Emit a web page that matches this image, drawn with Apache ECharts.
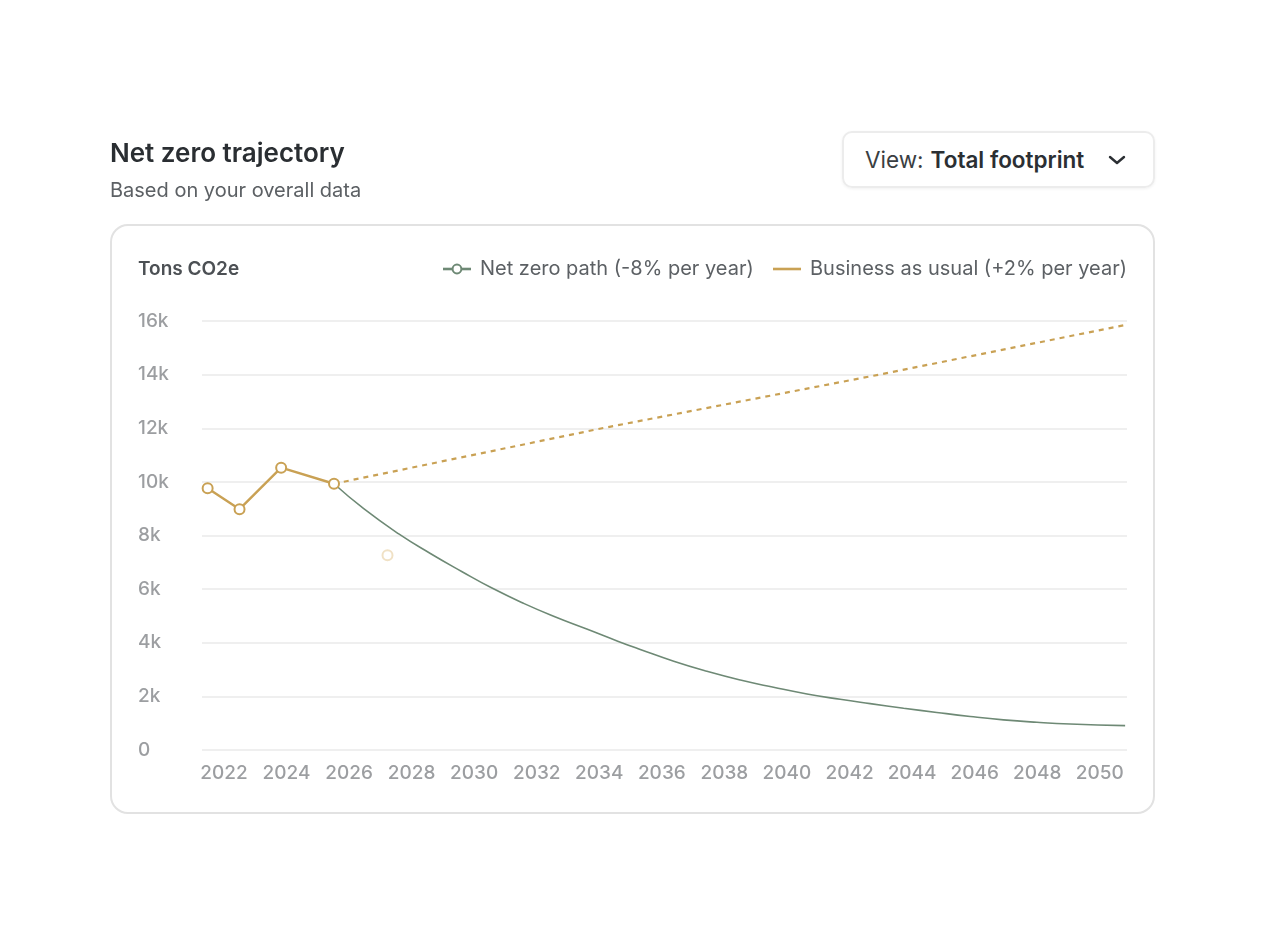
<!DOCTYPE html>
<html>
<head>
<meta charset="utf-8">
<script src="https://cdn.jsdelivr.net/npm/echarts@6/dist/echarts.min.js"></script>
<style>
  html, body { margin: 0; padding: 0; background: #ffffff; }
  body { width: 1265px; height: 946px; position: relative; overflow: hidden; font-family: Inter, "Noto Sans", sans-serif; }
  #card { position: absolute; left: 110px; top: 224px; width: 1041px; height: 586px; border: 2px solid #e2e2e2; border-radius: 18px; box-sizing: content-box; }
  #dropdown { position: absolute; left: 842px; top: 131px; width: 309px; height: 53px; border: 2px solid #ececec; border-radius: 10px; box-shadow: 0 1px 3px rgba(0,0,0,0.06); display: flex; align-items: center; font-size: 22.5px; color: #3a3e42; }
  #dropdown .lbl { margin-left: 21px; }
  #dropdown b { font-weight: 600; color: #2b2f33; margin-left: 7px; }
  #dropdown svg { position: absolute; left: 264px; top: 21px; }
  #chart { position: absolute; left: 0; top: 0; width: 1265px; height: 946px; }
</style>
</head>
<body>
<div id="card"></div>
<div id="dropdown"><span class="lbl">View:</span><b>Total footprint</b>
  <svg width="18" height="12" viewBox="0 0 18 12"><path d="M2 3 L9 9 L16 3" fill="none" stroke="#2b2f33" stroke-width="2.4" stroke-linecap="round" stroke-linejoin="round"/></svg>
</div>
<div id="chart"></div>
<script>
// ---- data ----
const xTickYears = [2022, 2024, 2026, 2028, 2030, 2032, 2034, 2036, 2038, 2040, 2042, 2044, 2046, 2048, 2050];
const yTickValues = [0, 2000, 4000, 6000, 8000, 10000, 12000, 14000, 16000];

const historyYears  = [2021.48, 2022.50, 2023.83, 2025.52];
const historyValues = [9760, 8980, 10530, 9930];

const netZeroYears  = [2025.52, 2026.47, 2027.59, 2028.60, 2029.60, 2030.57, 2031.60, 2032.60, 2033.60, 2034.61, 2035.31, 2036.38, 2037.44, 2038.51, 2039.57, 2040.64, 2041.70, 2042.66, 2043.73, 2044.79, 2045.86, 2046.92, 2047.99, 2049.05, 2050.81];
const netZeroValues = [9930, 9000, 8060, 7330, 6660, 6040, 5460, 4960, 4510, 4050, 3750, 3310, 2935, 2610, 2340, 2090, 1890, 1730, 1560, 1400, 1250, 1125, 1035, 970, 910];

const bauYears  = [2025.52, 2034.09, 2042.95, 2050.81];
const bauValues = [9930, 12000, 14000, 15850];

const ghostYears  = [2027.23];
const ghostValues = [7260];

const netZeroName = 'Net zero path (-8% per year)';
const bauName = 'Business as usual (+2% per year)';

// ---- build ----
const zip = (xs, ys) => xs.map((x, i) => [x, ys[i]]);
const GOLD = '#c9a154';
const GREEN = '#6e8975';
const FONT = 'Inter, "Noto Sans", sans-serif';

const chart = echarts.init(document.getElementById('chart'), null, { renderer: 'canvas' });
chart.setOption({
  animation: false,
  backgroundColor: 'transparent',
  textStyle: { fontFamily: FONT },
  title: [
    { text: 'Net zero trajectory', left: 110, top: 141, padding: 0, textStyle: { fontFamily: FONT, fontSize: 26, fontWeight: 600, color: '#2a2e32' } },
    { text: 'Based on your overall data', left: 110, top: 181, padding: 0, textStyle: { fontFamily: FONT, fontSize: 20, fontWeight: 400, color: '#5c6064' } },
    { text: 'Tons CO2e', left: 138, top: 260, padding: 0, textStyle: { fontFamily: FONT, fontSize: 19, fontWeight: 600, color: '#4c5054' } }
  ],
  legend: {
    right: 138, top: 259,
    padding: 0,
    align: 'left',
    itemWidth: 28, itemHeight: 11, itemGap: 18,
    textStyle: { fontFamily: FONT, fontSize: 20, color: '#5c6064', padding: [0, 0, 0, 4] },
    data: [
      { name: netZeroName, lineStyle: { width: 2.6 }, itemStyle: { borderWidth: 2.2 } },
      { name: bauName, lineStyle: { type: 'solid', width: 2.6 }, itemStyle: { opacity: 0 } }
    ]
  },
  grid: { left: 202, right: 138, top: 321, bottom: 196 },
  xAxis: {
    type: 'value',
    min: 2021.30, max: 2050.87,
    axisLine: { show: false },
    axisTick: { show: false },
    splitLine: { show: false },
    axisLabel: {
      customValues: xTickYears,
      formatter: v => String(Math.round(v)),
      margin: 14,
      fontFamily: FONT, fontSize: 19, fontWeight: 500, color: '#9c9ea1'
    }
  },
  yAxis: {
    type: 'value',
    min: 0, max: 16000, interval: 2000,
    axisLine: { show: false },
    axisTick: { show: false },
    splitLine: { lineStyle: { color: '#efefef', width: 2 } },
    axisLabel: {
      align: 'left',
      margin: 64,
      formatter: v => v === 0 ? '0' : (v / 1000) + 'k',
      fontFamily: FONT, fontSize: 19, fontWeight: 500, color: '#9c9ea1'
    }
  },
  series: [
    {
      name: netZeroName,
      type: 'line',
      data: zip(netZeroYears, netZeroValues),
      smooth: 0.5,
      symbol: 'emptyCircle', symbolSize: 8, showSymbol: false,
      lineStyle: { color: GREEN, width: 1.6 },
      itemStyle: { color: GREEN, borderWidth: 2 },
      z: 2
    },
    {
      name: bauName,
      type: 'line',
      data: zip(bauYears, bauValues),
      symbol: 'none',
      lineStyle: { color: GOLD, width: 2.2, type: [5, 5] },
      itemStyle: { color: GOLD },
      z: 3
    },
    {
      name: 'History',
      type: 'line',
      data: zip(historyYears, historyValues),
      symbol: 'circle', symbolSize: 10,
      lineStyle: { color: GOLD, width: 2.4 },
      itemStyle: { color: '#ffffff', borderColor: GOLD, borderWidth: 2 },
      z: 4
    },
    {
      name: 'Projected point',
      type: 'scatter',
      data: zip(ghostYears, ghostValues),
      symbol: 'circle', symbolSize: 10,
      itemStyle: { color: '#ffffff', borderColor: '#ecdab6', borderWidth: 2 },
      z: 4
    }
  ]
});
</script>
</body>
</html>
